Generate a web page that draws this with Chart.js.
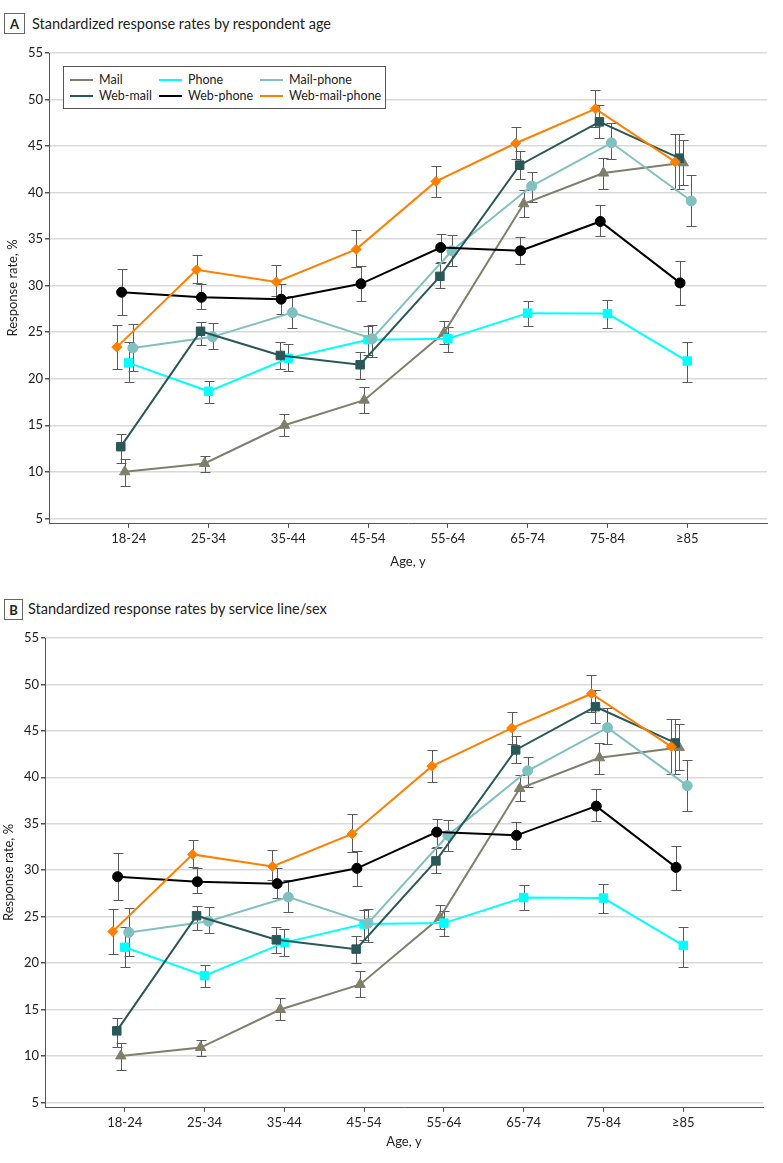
<!DOCTYPE html>
<html>
<head>
<meta charset="utf-8">
<script src="https://cdn.jsdelivr.net/npm/chart.js@4.4.0/dist/chart.umd.min.js"></script>
<style>
  body { margin: 0; background: #fff; }
  .page { position: relative; width: 783px; height: 1163px; overflow: hidden; font-family: Lato, sans-serif; color: #222; }
  .tag { position: absolute; border: 1px solid #666; box-sizing: border-box; font: bold 13px Lato, sans-serif; display: flex; align-items: center; justify-content: center; }
  .title { position: absolute; font: 14.5px Lato, sans-serif; white-space: nowrap; line-height: 20px; }
  canvas { position: absolute; }
  .legend { position: absolute; border: 1px solid #555; background: #fff; box-sizing: border-box; }
  .legend .item { position: absolute; font: 12.5px Lato, sans-serif; white-space: nowrap; line-height: 16px; }
  .legend .item i { position: absolute; top: 7px; height: 2px; }
</style>
</head>
<body>
<div class="page">
  <div class="tag" style="left:4px;top:13px;width:21px;height:21px;">A</div>
  <div class="title" style="left:32px;top:14px;">Standardized response rates by respondent age</div>
  <canvas id="chartA" width="783" height="575" style="left:0;top:0;"></canvas>
  <div class="legend" id="legendA" style="left:63px;top:66px;width:323px;height:43px;"></div>

  <div class="tag" style="left:4px;top:599px;width:19px;height:21px;">B</div>
  <div class="title" style="left:28px;top:599px;">Standardized response rates by service line/sex</div>
  <canvas id="chartB" width="783" height="570" style="left:-4px;top:585px;"></canvas>
</div>
<script>
// categories + axis ticks
const ageGroups = ["18-24", "25-34", "35-44", "45-54", "55-64", "65-74", "75-84", "≥85"];
const yTicks = [5, 10, 15, 20, 25, 30, 35, 40, 45, 50, 55];

// series values (response rate, %) and 95% CI bounds
const mail = [10.0, 10.9, 15.0, 17.7, 24.9, 38.8, 42.1, 43.2];
const mailLo = [8.5, 10.0, 13.9, 16.3, 23.7, 37.4, 40.4, 40.8];
const mailHi = [11.4, 11.7, 16.2, 19.1, 26.2, 40.3, 43.7, 45.7];

const phone = [21.7, 18.65, 22.2, 24.2, 24.3, 27.05, 27.0, 21.9];
const phoneLo = [19.6, 17.4, 20.8, 22.5, 22.9, 25.7, 25.4, 19.6];
const phoneHi = [23.9, 19.8, 23.7, 25.7, 25.6, 28.4, 28.5, 23.9];

const mailPhone = [23.3, 24.5, 27.1, 24.3, 33.75, 40.7, 45.35, 39.1];
const mailPhoneLo = [20.8, 23.2, 25.5, 22.3, 32.1, 39.0, 43.6, 36.4];
const mailPhoneHi = [25.9, 26.0, 28.9, 25.8, 35.4, 42.2, 47.5, 41.9];

const webMail = [12.7, 25.1, 22.5, 21.5, 31.0, 42.95, 47.6, 43.7];
const webMailLo = [11.0, 23.6, 21.1, 20.0, 29.7, 41.5, 45.9, 40.4];
const webMailHi = [14.1, 26.1, 23.9, 22.9, 32.4, 44.5, 49.4, 46.3];

const webPhone = [29.3, 28.75, 28.55, 30.2, 34.1, 33.75, 36.9, 30.3];
const webPhoneLo = [26.8, 27.5, 27.0, 28.3, 32.5, 32.3, 35.3, 27.9];
const webPhoneHi = [31.8, 30.2, 30.2, 32.1, 35.5, 35.2, 38.7, 32.6];

const webMailPhone = [23.4, 31.7, 30.4, 33.9, 41.2, 45.3, 49.0, 43.3];
const webMailPhoneLo = [21.0, 30.3, 28.9, 32.0, 39.5, 43.6, 47.0, 40.4];
const webMailPhoneHi = [25.8, 33.3, 32.2, 36.0, 42.9, 47.0, 51.0, 46.3];

// series look
const series = [
  { name: "Mail", vals: mail, lo: mailLo, hi: mailHi, color: "#7f7f6b", shape: "triangle", r: 6, dx: -0.05 },
  { name: "Phone", vals: phone, lo: phoneLo, hi: phoneHi, color: "#00ffff", shape: "rect", r: 6, dx: 0 },
  { name: "Mail-phone", vals: mailPhone, lo: mailPhoneLo, hi: mailPhoneHi, color: "#80c0c0", shape: "circle", r: 5, dx: 0.05 },
  { name: "Web-mail", vals: webMail, lo: webMailLo, hi: webMailHi, color: "#2a5757", shape: "rect", r: 6, dx: -0.1 },
  { name: "Web-phone", vals: webPhone, lo: webPhoneLo, hi: webPhoneHi, color: "#000000", shape: "circle", r: 5, dx: -0.09 },
  { name: "Web-mail-phone", vals: webMailPhone, lo: webMailPhoneLo, hi: webMailPhoneHi, color: "#ff7f00", shape: "rectRot", r: 5, dx: -0.15 }
];

// CI whiskers, drawn under the lines
const errorBars = {
  id: "errorBars",
  beforeDatasetsDraw(chart) {
    const ctx = chart.ctx;
    const xs = chart.scales.x, ys = chart.scales.y;
    ctx.save();
    ctx.strokeStyle = "#5a5a5a";
    ctx.lineWidth = 1;
    chart.data.datasets.forEach((ds) => {
      ds.data.forEach((p) => {
        const x = Math.round(xs.getPixelForValue(p.x)) + 0.5;
        const t = Math.round(ys.getPixelForValue(p.hi)) + 0.5;
        const b = Math.round(ys.getPixelForValue(p.lo)) + 0.5;
        ctx.beginPath();
        ctx.moveTo(x, t); ctx.lineTo(x, b);
        ctx.moveTo(x - 5, t); ctx.lineTo(x + 5, t);
        ctx.moveTo(x - 5, b); ctx.lineTo(x + 5, b);
        ctx.stroke();
      });
    });
    ctx.restore();
  }
};

const tickFont = { family: "Lato", size: 13 };

function makeChart(id, xHeight) {
  const datasets = series.map((s, i) => ({
    label: s.name,
    data: s.vals.map((v, j) => ({ x: j + s.dx, y: v, lo: s.lo[j], hi: s.hi[j] })),
    borderColor: s.color,
    backgroundColor: s.color,
    pointBackgroundColor: s.color,
    pointBorderColor: s.color,
    pointStyle: s.shape,
    pointRadius: s.r,
    pointBorderWidth: 1,
    borderWidth: 2,
    tension: 0,
    order: series.length - 1 - i
  }));

  return new Chart(document.getElementById(id), {
    type: "line",
    data: { datasets },
    plugins: [errorBars],
    options: {
      responsive: false,
      animation: false,
      layout: { padding: { top: 53, right: 16, bottom: 5, left: 0 } },
      plugins: { legend: { display: false }, tooltip: { enabled: false } },
      scales: {
        x: {
          type: "linear",
          min: -1,
          max: 8,
          afterBuildTicks: (scale) => { scale.ticks = ageGroups.map((c, i) => ({ value: i })); },
          afterFit: (scale) => { scale.height = xHeight; },
          ticks: { callback: (v) => ageGroups[v], font: tickFont, color: "#222", padding: 3, maxRotation: 0 },
          grid: { drawOnChartArea: false, tickLength: 5, tickColor: "#555" },
          border: { color: "#555", width: 1 },
          title: { display: true, text: "Age, y", font: tickFont, color: "#222", padding: { top: 0, bottom: 0 } }
        },
        y: {
          min: 4.5,
          max: 55,
          afterBuildTicks: (scale) => { scale.ticks = yTicks.map((v) => ({ value: v })); },
          afterFit: (scale) => { scale.width = 49; },
          ticks: { font: tickFont, color: "#222", padding: 2 },
          grid: { color: "#d9d9d9", lineWidth: 1.5, tickLength: 4, tickColor: "#555" },
          border: { color: "#555", width: 1 },
          title: { display: true, text: "Response rate, %", font: tickFont, color: "#222", padding: { top: 5, bottom: 0 } }
        }
      }
    }
  });
}

makeChart("chartA", 47);
makeChart("chartB", 43);

// legend box for panel A (3 columns x 2 rows)
const legendEl = document.getElementById("legendA");
const colX = [6, 95, 196];
series.forEach((s, i) => {
  const col = i % 3, row = Math.floor(i / 3);
  const item = document.createElement("div");
  item.className = "item";
  item.style.left = colX[col] + "px";
  item.style.top = (5 + row * 16) + "px";
  item.style.paddingLeft = "29px";
  item.innerHTML = `<i style="left:0;width:23px;background:${s.color}"></i>${s.name}`;
  legendEl.appendChild(item);
});
</script>
</body>
</html>
